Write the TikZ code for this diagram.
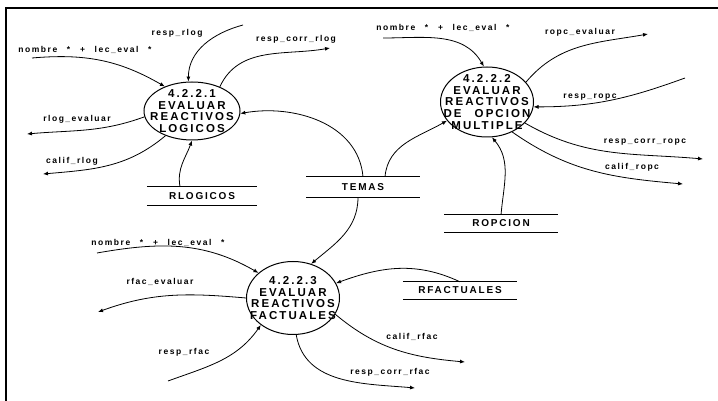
\documentclass[tikz,border=0pt]{standalone}
\usepackage{fontspec}
\setmainfont{Liberation Sans}
\newfontfamily\dfdfont{Liberation Sans}[LetterSpace=18]
\newfontfamily\flowfont{Liberation Sans}[LetterSpace=18,WordSpace=2.5]
\usetikzlibrary{arrows.meta,shapes.geometric}

\begin{document}
\begin{tikzpicture}
[
	x=1pt,y=1pt,
	proc/.style={ellipse,draw,line width=1pt,inner sep=0pt},
	proctext/.style={align=center,inner sep=0pt,font=\dfdfont\bfseries\fontsize{11.5}{11.7}\selectfont},
	store/.style={inner sep=0pt,font=\dfdfont\bfseries\fontsize{10}{12}\selectfont},
	storeline/.style={line width=1.2pt},
	flow/.style={line width=0.8pt,-{Latex[length=5pt,width=4pt]}},
	lbl/.style={inner sep=0pt,font=\flowfont\bfseries\fontsize{8.5}{10}\selectfont}
]
	\useasboundingbox (0,0) rectangle (718,401);

	% frame
	\draw[line width=1.6pt] (6,0) -- (6,393) -- (718,393);

	% processes
	\node[proc,minimum width=96pt,minimum height=58pt] (p1) at (192,290) {};
	\node[proctext] (p1t) at (p1) {4.2.2.1\\EVALUAR\\REACTIVOS\\LOGICOS};
	\node[proc,minimum width=93pt,minimum height=70pt] (p2) at (487,299) {};
	\node[proctext] (p2t) at (p2) {4.2.2.2\\EVALUAR\\REACTIVOS\\DE OPCION\\MULTIPLE};
	\node[proc,minimum width=93pt,minimum height=73pt] (p3) at (293,103) {};
	\node[proctext] (p3t) at (p3) {4.2.2.3\\EVALUAR\\REACTIVOS\\FACTUALES};

	% stores
	\node[store,minimum width=110pt,minimum height=18pt] (rlog) at (202,205) {RLOGICOS};
	\node[store,minimum width=113pt,minimum height=20pt] (temas) at (363,214) {TEMAS};
	\node[store,minimum width=113pt,minimum height=17pt] (ropc) at (501,177.5) {ROPCION};
	\node[store,minimum width=114pt,minimum height=17pt] (rfac) at (460,110.5) {RFACTUALES};
	\draw[storeline] (rlog.north west) -- (rlog.north east) (rlog.south west) -- (rlog.south east);
	\draw[storeline] (temas.north west) -- (temas.north east) (temas.south west) -- (temas.south east);
	\draw[storeline] (ropc.north west) -- (ropc.north east) (ropc.south west) -- (ropc.south east);
	\draw[storeline] (rfac.north west) -- (rfac.north east) (rfac.south west) -- (rfac.south east);

	% free ends
	\coordinate (n1) at (32,343);
	\coordinate (r1) at (243,376);
	\coordinate (c1) at (330,353);
	\coordinate (e1) at (27,267);
	\coordinate (f1) at (43,227);
	\coordinate (n2) at (383,363);
	\coordinate (e2) at (648,367);
	\coordinate (r2) at (685,323);
	\coordinate (c2) at (703,242);
	\coordinate (f2) at (683,217);
	\coordinate (n3) at (97,148);
	\coordinate (e3) at (98,89);
	\coordinate (r3) at (168,20);
	\coordinate (f3) at (465,39);
	\coordinate (c3) at (415,13);

	% 4.2.2.1
	\draw[flow] (n1) to[out=5,in=150] (p1.138);
	\draw[flow] (r1) to[out=195,in=90] (p1.97);
	\draw[flow] (p1.41) to[out=65,in=190] (c1);
	\draw[flow] (p1.187) to[out=200,in=5] (e1);
	\draw[flow] (p1.223) to[out=220,in=5] (f1);
	\draw[flow] ([xshift=-22pt]rlog.north) to[out=100,in=250] (p1.270);
	\draw[flow] (temas.north) to[out=95,in=10] (p1.-3);
	\node[lbl] (l1) at (85,351) {nombre * + lec\_eval *};
	\node[lbl] (l2) at (177,368) {resp\_rlog};
	\node[lbl] (l3) at (296,362) {resp\_corr\_rlog};
	\node[lbl] (l4) at (77,282) {rlog\_evaluar};
	\node[lbl] (l5) at (72,240) {calif\_rlog};

	% 4.2.2.2
	\draw[flow] ([xshift=22pt]temas.north) to[out=85,in=210] (p2.205);
	\draw[flow] (n2) to[out=0,in=120] (p2.95);
	\draw[flow] (p2.27) to[out=50,in=190] (e2);
	\draw[flow] (r2) to[out=200,in=0] (p2.354);
	\draw[flow] (p2.331) to[out=-30,in=175] (c2);
	\draw[flow] (p2.310) to[out=-35,in=175] (f2);
	\draw[flow] (ropc.north) to[out=85,in=-50] (p2.278);
	\node[lbl] (l6) at (443,373) {nombre * + lec\_eval *};
	\node[lbl] (l7) at (580,369) {ropc\_evaluar};
	\node[lbl] (l8) at (590,304) {resp\_ropc};
	\node[lbl] (l9) at (645,259) {resp\_corr\_ropc};
	\node[lbl] (l10) at (632,234) {calif\_ropc};

	% 4.2.2.3
	\draw[flow] ([xshift=-5pt]temas.south) to[out=-90,in=40] (p3.62);
	\draw[flow] (n3) to[out=10,in=150] (p3.144);
	\draw[flow] (p3.180) to[out=175,in=20] (e3);
	\draw[flow] (r3) to[out=20,in=235] (p3.220);
	\draw[flow] (p3.339) to[out=-40,in=175] (f3);
	\draw[flow] (p3.275) to[out=-80,in=175] (c3);
	\draw[flow] (rfac.north) to[out=155,in=20] (p3.19);
	\node[lbl] (l11) at (158,158) {nombre * + lec\_eval *};
	\node[lbl] (l12) at (160,119) {rfac\_evaluar};
	\node[lbl] (l13) at (184,49) {resp\_rfac};
	\node[lbl] (l14) at (412,64) {calif\_rfac};
	\node[lbl] (l15) at (390,29) {resp\_corr\_rfac};

\end{tikzpicture}
\end{document}
